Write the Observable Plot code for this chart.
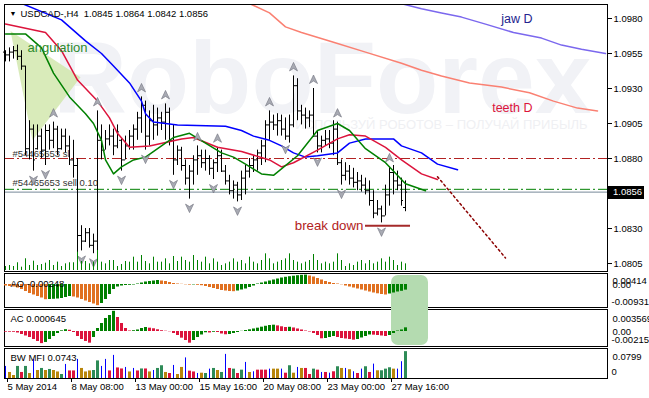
<!DOCTYPE html>
<html><head><meta charset="utf-8">
<script src="https://cdn.jsdelivr.net/npm/d3@7"></script>
<script src="https://cdn.jsdelivr.net/npm/@observablehq/plot@0.6"></script>
<style>
html,body{margin:0;padding:0;background:#fff;}
#chart{position:relative;width:649px;height:398px;overflow:hidden;background:#fff;}
#chart svg{position:absolute;left:0;overflow:visible;}
</style></head><body><div id="chart"></div>
<script>
// ---------- DATA ----------
const symbolName = "USDCAD-,H4";
const highs = [1.0957,1.0959,1.0960,1.0961,1.0957,1.0946,1.0907,1.0904,1.0904,1.0901,
 1.0904,1.0904,1.0906,1.0903,1.0901,1.0901,1.0896,1.0893,1.0880,1.0832,
 1.0830,1.0830,1.0826,1.0914,1.0904,1.0900,1.0904,1.0901,1.0904,1.0894,
 1.0896,1.0900,1.0904,1.0913,1.0924,1.0921,1.0914,1.0918,1.0916,1.0913,
 1.0919,1.0916,1.0904,1.0889,1.0888,1.0879,1.0875,1.0882,1.0889,1.0886,
 1.0886,1.0882,1.0879,1.0888,1.0886,1.0875,1.0868,1.0864,1.0863,1.0871,
 1.0875,1.0880,1.0882,1.0886,1.0893,1.0907,1.0914,1.0911,1.0912,1.0911,
 1.0909,1.0911,1.0939,1.0937,1.0918,1.0916,1.0914,1.0930,1.0900,1.0896,
 1.0900,1.0900,1.0907,1.0906,1.0879,1.0877,1.0875,1.0873,1.0870,1.0868,
 1.0866,1.0864,1.0857,1.0850,1.0846,1.0861,1.0874,1.0875,1.0871,1.0866,
 1.0864];
const lows = [1.0949,1.0949,1.0951,1.0950,1.0943,1.0882,1.0879,1.0871,1.0886,1.0880,
 1.0875,1.0886,1.0887,1.0882,1.0886,1.0884,1.0875,1.0866,1.0811,1.0814,
 1.0820,1.0816,1.0812,1.0811,1.0879,1.0886,1.0889,1.0882,1.0887,1.0871,
 1.0879,1.0886,1.0886,1.0893,1.0898,1.0886,1.0889,1.0893,1.0896,1.0900,
 1.0893,1.0889,1.0868,1.0875,1.0871,1.0861,1.0851,1.0861,1.0868,1.0873,
 1.0871,1.0868,1.0865,1.0870,1.0870,1.0861,1.0854,1.0851,1.0849,1.0850,
 1.0854,1.0866,1.0870,1.0871,1.0875,1.0877,1.0893,1.0900,1.0896,1.0896,
 1.0893,1.0891,1.0902,1.0907,1.0904,1.0901,1.0902,1.0895,1.0884,1.0884,
 1.0889,1.0887,1.0882,1.0875,1.0861,1.0864,1.0861,1.0859,1.0857,1.0856,
 1.0854,1.0846,1.0837,1.0839,1.0834,1.0839,1.0846,1.0854,1.0857,1.0846,
 1.0842];
const opens = [1.0956,1.0954,1.0956,1.0957,1.0953,1.0946,1.0887,1.0901,1.0887,1.0896,
 1.0886,1.0900,1.0893,1.0901,1.0887,1.0896,1.0889,1.0879,1.0875,1.0825,
 1.0821,1.0827,1.0818,1.0821,1.0893,1.0886,1.0894,1.0896,1.0889,1.0893,
 1.0879,1.0889,1.0896,1.0901,1.0909,1.0918,1.0896,1.0907,1.0904,1.0909,
 1.0906,1.0913,1.0893,1.0879,1.0886,1.0875,1.0866,1.0871,1.0879,1.0882,
 1.0877,1.0880,1.0873,1.0877,1.0882,1.0871,1.0864,1.0857,1.0861,1.0854,
 1.0866,1.0871,1.0875,1.0879,1.0884,1.0889,1.0904,1.0906,1.0904,1.0907,
 1.0901,1.0896,1.0904,1.0932,1.0914,1.0911,1.0909,1.0911,1.0896,1.0889,
 1.0893,1.0894,1.0891,1.0901,1.0877,1.0868,1.0871,1.0866,1.0863,1.0864,
 1.0861,1.0857,1.0850,1.0841,1.0844,1.0839,1.0854,1.0870,1.0864,1.0861,
 1.0845];
const closes = [1.0954,1.0956,1.0957,1.0953,1.0946,1.0887,1.0901,1.0879,1.0896,1.0886,
 1.0900,1.0893,1.0901,1.0887,1.0896,1.0889,1.0879,1.0875,1.0825,1.0821,
 1.0827,1.0818,1.0821,1.0893,1.0886,1.0894,1.0896,1.0889,1.0899,1.0879,
 1.0889,1.0896,1.0901,1.0909,1.0918,1.0896,1.0907,1.0904,1.0909,1.0906,
 1.0913,1.0893,1.0879,1.0886,1.0875,1.0866,1.0871,1.0879,1.0882,1.0877,
 1.0880,1.0873,1.0877,1.0882,1.0871,1.0864,1.0857,1.0861,1.0854,1.0866,
 1.0871,1.0875,1.0879,1.0884,1.0889,1.0904,1.0906,1.0904,1.0907,1.0901,
 1.0896,1.0904,1.0932,1.0914,1.0911,1.0909,1.0911,1.0896,1.0889,1.0893,
 1.0894,1.0891,1.0901,1.0877,1.0868,1.0871,1.0866,1.0863,1.0864,1.0861,
 1.0857,1.0850,1.0841,1.0844,1.0839,1.0854,1.0870,1.0864,1.0861,1.0850,
 1.0856];
const volumes = [600,750,600,1160,500,1760,750,1400,750,900,
 1100,1500,750,1250,600,1000,1160,1160,2750,1350,
 1350,1000,1250,3000,1250,1000,1500,1500,600,900,
 1350,1250,2000,1250,2250,1350,1000,2000,1250,1250,
 1750,1000,2100,1350,2000,1500,1250,2250,1500,1250,
 2000,1000,1750,1250,750,1000,1250,1750,1250,1500,
 1000,2000,1250,1000,1500,2500,1750,1000,1250,1500,
 1750,2500,1500,1250,1000,1250,1500,2400,1500,1000,
 1250,1000,1250,2500,1500,600,1000,750,1250,1500,
 1000,1500,1000,1250,1750,1250,2000,1500,750,1250,
 1000];

// Alligator (H4) vertices: bar index and value
const jawIdx = [3,14,20,24,27,31,34,35,37,43,55,59,62,66,69,72,75,78,83,86,90,97,99,104,108,113];
const jawVal = [1.0992,1.0979,1.0964,1.0955,1.0946,1.0934,1.0921,1.0912,1.0906,1.0904,1.0903,1.0900,1.0896,1.0893,1.0889,1.0884,1.0881,1.0882,1.0884,1.0891,1.0894,1.0894,1.0889,1.0884,1.0876,1.0872];
const teethIdx = [0,10,14,18,23,26,28,31,36,44,47,53,59,66,69,72,78,83,86,90,95,99,104,108];
const teethVal = [1.0976,1.0970,1.0957,1.0936,1.0921,1.0909,1.0898,1.0888,1.0889,1.0894,1.0895,1.0888,1.0885,1.0879,1.0874,1.0877,1.0886,1.0894,1.0897,1.0896,1.0888,1.0879,1.0869,1.0865];
const lipsIdx = [0,5,9,12,16,20,22,24,25,27,29,32,35,39,42,46,50,54,57,60,64,67,73,78,83,86,90,95,100,105];
const lipsVal = [1.0969,1.0969,1.0959,1.0941,1.0924,1.0912,1.0905,1.0893,1.0879,1.0869,1.0874,1.0879,1.0881,1.0889,1.0895,1.0898,1.0891,1.0884,1.0881,1.0876,1.0869,1.0868,1.0882,1.0900,1.0905,1.0900,1.0887,1.0877,1.0862,1.0857];
// Daily alligator lines
const jawDIdx = [97,104,109,114,120,127,134,139,144,150];
const jawDVal = [1.0992,1.0987,1.0984,1.0981,1.0976,1.0970,1.0966,1.0961,1.0958,1.0955];
const teethDIdx = [60,66,70,74,82,90,99,104,109,116,124,131,137,143,148];
const teethDVal = [1.0992,1.0984,1.0974,1.0970,1.0963,1.0956,1.0948,1.0943,1.0939,1.0934,1.0931,1.0927,1.0921,1.0916,1.0914];

// Fractals (bar indices)
const upFractals = [12,23,34,40,48,53,66,72,77,83,96];
const downFractals = [7,10,19,22,29,35,42,46,52,58,70,78,84,94];

// Order lines
const slPrice = 1.0880;
const sellPrice = 1.0858;
const orderLabels = ["#54465653 sl", "#54465653 sell 0.10"];

// Annotations
const angulationIdx = [1.25, 18.75, 6.75];
const angulationVal = [1.0971, 1.0938, 1.0893];
const trendIdx = [108, 125];
const trendVal = [1.0867, 1.0809];
const breakIdx = [90, 101.25];
const breakVal = 1.0832;
const noteText = ["angulation", "jaw D", "teeth D", "break down"];
const noteIdx = [5.5, 131.75, 131.75, 89.5];
const noteVal = [1.0959, 1.0980, 1.0916, 1.0832];
const watermark = "RoboForex";
const watermarkSub = "ИСПОЛЬЗУЙ РОБОТОВ – ПОЛУЧАЙ ПРИБЫЛЬ";

// Price axis
const priceTicks = [1.0980, 1.0955, 1.0930, 1.0905, 1.0880, 1.0830, 1.0805];

// Time axis
const timeTickIdx = [0, 16, 32, 48, 64, 80, 96];
const timeTickLabels = ["5 May 2014", "8 May 08:00", "13 May 00:00", "15 May 16:00", "20 May 08:00", "23 May 00:00", "27 May 16:00"];

// Oscillators
const ao = [-0.00066,-0.00088,-0.0011,-0.00154,-0.0022,-0.00308,-0.00396,-0.00462,-0.00528,-0.00594,
-0.00669,-0.0066,-0.00651,-0.00638,-0.00616,-0.00572,-0.00528,-0.0055,-0.00594,-0.0066,
-0.00726,-0.00792,-0.00858,-0.00931,-0.00836,-0.0066,-0.0044,-0.0022,-0.0011,-0.00066,
-0.00044,-0.00035,-0.00022,0.00022,0.00066,0.0011,0.00132,0.00154,0.00176,0.00154,
0.00132,0.00088,0.00044,0.00022,0.00009,-0.00013,-0.00026,-0.00018,-0.00035,-0.00053,
-0.00088,-0.00132,-0.00176,-0.0022,-0.00264,-0.00286,-0.00308,-0.00317,-0.00286,-0.00242,
-0.00198,-0.00132,-0.00066,0.00022,0.00066,0.0011,0.00154,0.00198,0.00242,0.00286,
0.00317,0.00343,0.00365,0.00387,0.00405,0.00414,0.00374,0.0033,0.00264,0.00198,
0.00132,0.00088,0.00044,0.00022,-0.00013,-0.00066,-0.0011,-0.00154,-0.00198,-0.00242,
-0.00286,-0.0033,-0.00374,-0.00409,-0.0044,-0.00462,-0.00418,-0.00374,-0.0033,-0.00299,
-0.00248];
const aoAxisLabels = ["0.00414", "0.00", "-0.00931"];
const ac = [-0.000124,-0.00013,-0.000142,-0.000266,-0.000531,-0.000797,-0.001062,-0.001416,-0.00177,-0.00215,
-0.001947,-0.001416,-0.000885,-0.000354,0.000124,0.000319,0.000212,-0.000177,-0.000885,-0.001416,
-0.00177,-0.002071,-0.001062,0.000531,0.001416,0.002301,0.002832,0.003569,0.002478,0.001416,
0.000531,0.000089,0.000142,0.000266,0.000531,0.000708,0.000584,0.000478,0.000301,0.000142,
0.000053,-0.000053,-0.000354,-0.000708,-0.001186,-0.001593,-0.002071,-0.001593,-0.001062,-0.00062,
-0.00023,-0.000266,-0.000142,-0.000177,-0.000443,-0.000584,-0.000531,-0.000354,-0.000177,0.000035,
0.000177,0.000301,0.000443,0.000584,0.000761,0.00092,0.001062,0.001115,0.000991,0.000832,
0.000708,0.000743,0.00062,0.000443,0.000266,0.000089,-0.000089,-0.000354,-0.000708,-0.001292,
-0.001239,-0.001062,-0.000885,-0.001062,-0.001239,-0.001328,-0.001416,-0.00154,-0.001416,-0.001151,
-0.000885,-0.00062,-0.000655,-0.000708,-0.000797,-0.000885,-0.000708,-0.000354,0.000089,0.000266,
0.000645];
const acAxisLabels = ["0.003569", "0.00", "-0.00215"];
const mfi = [0.0334,0.0167,0.0083,0.0334,0.0167,0.0334,0.0139,0.0528,0.0222,0.0278,
0.0222,0.025,0.0222,0.0181,0.0111,0.0389,0.0209,0.0209,0.0528,0.0278,
0.0181,0.0209,0.0222,0.0487,0.0334,0.0528,0.0209,0.0639,0.0292,0.0264,
0.0306,0.0181,0.0278,0.0209,0.0264,0.0264,0.0181,0.0222,0.0278,0.0353,
0.0167,0.0139,0.0361,0.0111,0.0306,0.057,0.0203,0.0181,0.0139,0.0147,
0.0139,0.0259,0.0278,0.0222,0.0167,0.0667,0.0278,0.0259,0.0139,0.0231,
0.0445,0.0167,0.0186,0.0231,0.0231,0.0231,0.0259,0.0259,0.0259,0.0259,
0.0147,0.0353,0.0147,0.0306,0.0278,0.0278,0.0111,0.0259,0.0231,0.0167,
0.0167,0.0147,0.0186,0.0325,0.0278,0.0278,0.0242,0.0186,0.0139,0.0259,
0.0325,0.0167,0.0398,0.0214,0.0214,0.0259,0.0297,0.0259,0.0259,0.0464,
0.0743];
// MFI state per bar: g = MFI up & volume up, u = both down, b = MFI up & volume down, r = MFI down & volume up
const mfiState = ("buugrgubug"+"uguugbrrbu"+"uuggbbrbrr"+"bubrgrubgg"+"urbuubrrbu"+
                  "gbgugbrgrg"+"bubrrrbuub"+"rguburrgrb"+"rbrgububrb"+"grbugggubb"+"g").split("");
const mfiAxisLabels = ["0.0799", "0"];
const highlightIdx = [96.5, 105.75];

// ---------- DRAWING ----------
const root = document.getElementById("chart");
const FONT = '"Liberation Sans", Arial, sans-serif';
const baseStyle = {background: "transparent", fontFamily: FONT, fontSize: "9.5px", color: "#000", overflow: "visible"};
const W = 649, ML = 4, MR = 42;
const X = {domain: [-0.25, 150.5], axis: null};
const idx = d3.range(highs.length);
const bars = idx.map(i => ({i, high: highs[i], low: lows[i], open: opens[i], close: closes[i]}));
const last = bars[bars.length - 1];
const f4 = d3.format(".4f");

function place(svg, top) { svg.style.top = top + "px"; root.appendChild(svg); }
const pts = (ix, v) => ix.map((x, k) => ({i: x, v: v[k]}));

const arrowUp = {draw(c) { c.moveTo(0, -4.5); c.lineTo(4, 4); c.lineTo(0, 1.5); c.lineTo(-4, 4); c.closePath(); }};
const arrowDown = {draw(c) { c.moveTo(0, 4.5); c.lineTo(4, -4); c.lineTo(0, -1.5); c.lineTo(-4, -4); c.closePath(); }};

const priceBox = (index, scales, values, dims) => {
  const y = Math.round(scales.y(last.close));
  const x0 = dims.width - dims.marginRight + 1;
  const g = d3.create("svg:g");
  g.append("rect").attr("x", x0).attr("y", y - 6).attr("width", 36).attr("height", 13).attr("fill", "#000");
  g.append("text").attr("x", x0 + 5).attr("y", y).attr("dy", "0.35em").attr("fill", "#fff")
    .attr("text-anchor", "start").attr("font-family", FONT).attr("font-size", "9.5px").text(f4(last.close));
  return g.node();
};

// main chart
const main = Plot.plot({
  width: W, height: 275, marginTop: 4, marginBottom: 4, marginLeft: ML, marginRight: MR,
  x: X, y: {domain: [1.07993, 1.09900], axis: null}, style: baseStyle,
  marks: [
    Plot.text([watermark], {frameAnchor: "top-left", dx: 587, dy: 108, lineAnchor: "bottom", fontSize: 102, fontWeight: "bold", fill: "#f1f2f6", textAnchor: "end"}),
    Plot.text([watermarkSub], {frameAnchor: "top-left", dx: 583, dy: 120, lineAnchor: "middle", fontSize: 13, fill: "#eff0f3", textAnchor: "end"}),
    Plot.line(pts(angulationIdx, angulationVal), {x: "i", y: "v", fill: "#cfe6a9", fillOpacity: 0.8, stroke: "none", curve: "linear-closed"}),
    Plot.ruleY([slPrice], {stroke: "#b22222", strokeDasharray: "10,3,2,3"}),
    Plot.ruleY([sellPrice], {stroke: "#008000", strokeDasharray: "10,3,2,3"}),
    Plot.ruleY([last.close], {stroke: "#778899"}),
    Plot.text([orderLabels[0]], {y: [slPrice], frameAnchor: "left", dx: 8, dy: -2, lineAnchor: "bottom", textAnchor: "start", fill: "#333"}),
    Plot.text([orderLabels[1]], {y: [sellPrice], frameAnchor: "left", dx: 8, dy: -3, lineAnchor: "bottom", textAnchor: "start", fill: "#333"}),
    Plot.line(pts(teethDIdx, teethDVal), {x: "i", y: "v", stroke: "#fa8072", clip: true}),
    Plot.line(pts(jawDIdx, jawDVal), {x: "i", y: "v", stroke: "#7b68ee", clip: true}),
    Plot.ruleX(bars, {x: "i", y1: "low", y2: "high", stroke: "#000"}),
    Plot.ruleY(bars, {y: "open", x1: d => d.i - 0.5, x2: "i", stroke: "#000"}),
    Plot.ruleY(bars, {y: "close", x1: "i", x2: d => d.i + 0.5, stroke: "#000"}),
    Plot.line(pts(jawIdx, jawVal), {x: "i", y: "v", stroke: "#0000ff", clip: true}),
    Plot.line(pts(teethIdx, teethVal), {x: "i", y: "v", stroke: "#dc143c", clip: true}),
    Plot.line(pts(lipsIdx, lipsVal), {x: "i", y: "v", stroke: "#008000", clip: true}),
    Plot.dot(upFractals, {x: d => d, y: d => highs[d], dy: -9, symbol: arrowUp, fill: "#a9abb4", stroke: "#6f717c", strokeWidth: 0.6}),
    Plot.dot(downFractals, {x: d => d, y: d => lows[d], dy: 9, symbol: arrowDown, fill: "#a9abb4", stroke: "#6f717c", strokeWidth: 0.6}),
    Plot.line(pts(trendIdx, trendVal), {x: "i", y: "v", stroke: "#8b0000", strokeDasharray: "2,3"}),
    Plot.ruleY([breakVal], {x1: breakIdx[0], x2: breakIdx[1], stroke: "#a52a2a", strokeWidth: 2}),
    Plot.text([noteText[0]], {x: [noteIdx[0]], y: [noteVal[0]], textAnchor: "start", fontSize: 13, fill: "#2e8b2e"}),
    Plot.text([noteText[1]], {x: [noteIdx[1]], y: [noteVal[1]], textAnchor: "end", fontSize: 12.5, fill: "#23238e"}),
    Plot.text([noteText[2]], {x: [noteIdx[2]], y: [noteVal[2]], textAnchor: "end", fontSize: 12.5, fill: "#dc143c"}),
    Plot.text([noteText[3]], {x: [noteIdx[3]], y: [noteVal[3]], textAnchor: "end", fontSize: 13.3, fill: "#b22222"}),
    Plot.text(["▼"], {frameAnchor: "top-left", dx: 5, dy: 9, lineAnchor: "middle", textAnchor: "start", fontSize: 7}),
    Plot.text([`${symbolName}  ${f4(last.open)} ${f4(last.high)} ${f4(last.low)} ${f4(last.close)}`], {frameAnchor: "top-left", dx: 16, dy: 9, lineAnchor: "middle", textAnchor: "start"}),
    Plot.axisY(priceTicks, {anchor: "right", tickSize: 4, tickPadding: 2, tickFormat: f4, label: null}),
    priceBox,
    Plot.frame({stroke: "#000"})
  ]
});
place(main, 0);

// volumes (bottom of main window)
const vol = Plot.plot({
  width: W, height: 30, marginTop: 0, marginBottom: 0, marginLeft: ML, marginRight: MR,
  x: X, y: {domain: [0, 4500], axis: null}, style: baseStyle,
  marks: [Plot.ruleX(idx, {x: d => d, y1: 0, y2: d => volumes[d], stroke: "#008000"})]
});
place(vol, 240);

function hlPath(x0, x1, y0, y1, r, roundTop, roundBottom) {
  const p = d3.path();
  if (roundTop) { p.moveTo(x0, y0 + r); p.arcTo(x0, y0, x0 + r, y0, r); p.lineTo(x1 - r, y0); p.arcTo(x1, y0, x1, y0 + r, r); }
  else { p.moveTo(x0, y0); p.lineTo(x1, y0); }
  if (roundBottom) { p.lineTo(x1, y1 - r); p.arcTo(x1, y1, x1 - r, y1, r); p.lineTo(x0 + r, y1); p.arcTo(x0, y1, x0, y1 - r, r); }
  else { p.lineTo(x1, y1); p.lineTo(x0, y1); }
  p.closePath();
  return p.toString();
}
const hlTop = (index, s, v, d) => d3.create("svg:path").attr("fill", "#b4dbb0")
  .attr("d", hlPath(s.x(highlightIdx[0]), s.x(highlightIdx[1]), d.marginTop + 2, d.height + 1, 7, true, false)).node();
const hlBottom = (index, s, v, d) => d3.create("svg:path").attr("fill", "#b4dbb0")
  .attr("d", hlPath(s.x(highlightIdx[0]), s.x(highlightIdx[1]), 0, d.height - d.marginBottom - 1, 7, false, true)).node();

const sideLabels = (labels, tops) => [
  Plot.text([labels[0]], {frameAnchor: "top-right", dx: 5, dy: tops[0], lineAnchor: "middle", textAnchor: "start"}),
  Plot.text([labels[labels.length - 1]], {frameAnchor: "bottom-right", dx: 4, dy: -tops[1], lineAnchor: "middle", textAnchor: "start"})
];

// AO
const aoData = idx.map(i => ({i, v: ao[i], up: i > 0 && ao[i] > ao[i - 1]}));
const aoPlot = Plot.plot({
  width: W, height: 36, marginTop: 1, marginBottom: 1, marginLeft: ML, marginRight: MR,
  x: X, y: {domain: [-0.01012, 0.00484], axis: null}, style: baseStyle,
  marks: [
    Plot.frame({stroke: "#000"}),
    hlTop,
    Plot.ruleX(aoData, {x: "i", y1: 0, y2: "v", stroke: d => d.up ? "#008000" : "#e07020", strokeWidth: 3}),
    Plot.text([`AO ${ao[ao.length - 1].toFixed(5)}`], {frameAnchor: "top-left", dx: 6, dy: 10, lineAnchor: "middle", textAnchor: "start"}),
    ...sideLabels(aoAxisLabels, [7, 6]),
    Plot.text([0], {y: d => d, text: () => aoAxisLabels[1], frameAnchor: "right", dx: 5, textAnchor: "start"})
  ]
});
place(aoPlot, 272);

// AC
const acData = idx.map(i => ({i, v: ac[i], up: i > 0 && ac[i] > ac[i - 1]}));
const acPlot = Plot.plot({
  width: W, height: 39, marginTop: 1, marginBottom: 1, marginLeft: ML, marginRight: MR,
  x: X, y: {domain: [-0.00266, 0.00389], axis: null}, style: baseStyle,
  marks: [
    Plot.frame({stroke: "#000"}),
    hlBottom,
    Plot.ruleX(acData, {x: "i", y1: 0, y2: "v", stroke: d => d.up ? "#008000" : "#dc143c", strokeWidth: 3}),
    Plot.text([`AC ${ac[ac.length - 1].toFixed(6)}`], {frameAnchor: "top-left", dx: 6, dy: 9, lineAnchor: "middle", textAnchor: "start"}),
    ...sideLabels(acAxisLabels, [9, 7]),
    Plot.text([0], {y: d => d, text: () => acAxisLabels[1], frameAnchor: "right", dx: 5, textAnchor: "start"})
  ]
});
place(acPlot, 308);

// BW MFI
const mfiColors = {g: "#2e8b57", u: "#b8860b", b: "#0000ff", r: "#dc143c"};
const mfiData = idx.map(i => ({i, v: mfi[i], s: mfiState[i]}));
const mfiPlot = Plot.plot({
  width: W, height: 52, marginTop: 1, marginBottom: 21, marginLeft: ML, marginRight: MR,
  x: X, y: {domain: [0, 0.083], axis: null}, style: baseStyle,
  marks: [
    Plot.frame({stroke: "#000"}),
    Plot.ruleX(mfiData.filter(d => d.s !== "b"), {x: "i", y1: 0, y2: "v", stroke: d => mfiColors[d.s], strokeWidth: 3}),
    Plot.ruleX(mfiData.filter(d => d.s === "b"), {x: "i", y1: 0, y2: "v", stroke: mfiColors.b, strokeWidth: 1}),
    Plot.text([`BW MFI ${mfi[mfi.length - 1]}`], {frameAnchor: "top-left", dx: 6, dy: 9, lineAnchor: "middle", textAnchor: "start"}),
    ...sideLabels(mfiAxisLabels, [8, 7]),
    Plot.axisX(timeTickIdx, {anchor: "bottom", tickSize: 4, tickPadding: 1, textAnchor: "start", dx: 2, label: null,
      tickFormat: d => timeTickLabels[timeTickIdx.indexOf(d)]})
  ]
});
place(mfiPlot, 347);
</script>
</body></html>
